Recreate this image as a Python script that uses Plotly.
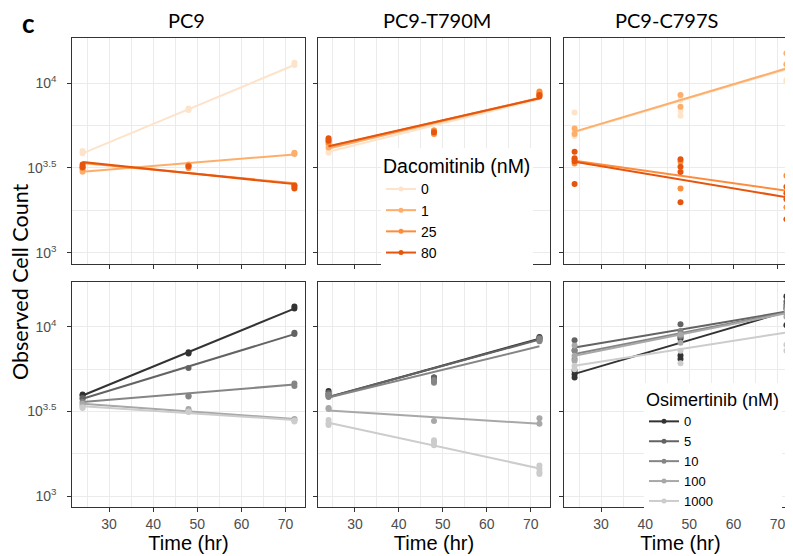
import plotly.graph_objects as go

# ---------------- data ----------------
times = [24, 48, 72]
fit_times = [24, 72]
cell_lines = ["PC9", "PC9-T790M", "PC9-C797S"]
daco_doses = ["0", "1", "25", "80"]
osim_doses = ["0", "5", "10", "100", "1000"]
daco_colors = ["#FEE3CB", "#FDAE6B", "#FD8D3C", "#E6550D"]
osim_colors = ["#333333", "#636363", "#858585", "#A8A8A8", "#CCCCCC"]

y_tick_values = [1000, 3162.28, 10000]
y_tick_labels = ["10<sup>3</sup>", "10<sup>3.5</sup>", "10<sup>4</sup>"]
y_minor_values = [1778.28, 5623.41]
x_tick_values = [30, 40, 50, 60, 70]
x_minor_values = [25, 35, 45, 55, 65, 75]

# observed cell counts: replicate values at 24, 48, 72 hr
pc9_daco_obs = {
    "0": [[3855, 3980], [6930, 7080], [12760, 13180]],
    "1": [[3006, 3090], [3266, 3311], [3820, 3890]],
    "25": [[3236, 3162], [3266, 3162], [2455, 2512]],
    "80": [[3311, 3199], [3236], [2399, 2483]],
}
pc9_daco_fit = {"0": [3855, 12760], "1": [3006, 3802], "25": [3388, 2570], "80": [3428, 2541]}

t790m_daco_obs = {
    "0": [[3890, 3981], [5070, 5188], [8414, 8710]],
    "1": [[4169, 4365], [5129, 5248], [8511, 8810]],
    "25": [[4467, 4624], [5012, 5248], [8610, 8913]],
    "80": [[4571, 4732], [5129], [8318, 8511]],
}
t790m_daco_fit = {"0": [3945, 8035], "1": [4121, 8128], "25": [4217, 8166], "80": [4246, 8128]}

c797s_daco_obs = {
    "0": [[6714, 5176, 4875], [7943, 6871, 6427], [12764, 10423, 10186]],
    "1": [[5408, 5012], [8492, 7244], [14962, 12882]],
    "25": [[3556, 3365], [3443, 2399], [2851, 1858]],
    "80": [[3945, 3606, 3467, 2547], [3556, 3221, 2992, 1986], [2455, 2244, 2070, 1578]],
}
c797s_daco_fit = {"0": [5129, 12023], "1": [5176, 12190], "25": [3491, 2328], "80": [3443, 2128]}

pc9_osim_obs = {
    "0": [[3926, 3981], [6966, 7079], [12823, 13183]],
    "5": [[3758, 3802], [5715], [9057, 9226]],
    "10": [[3589], [3908, 3873], [4624, 4467]],
    "100": [[3508, 3428], [3206, 3273], [2851, 2818]],
    "1000": [[3350, 3311], [3133, 3162], [2799, 2754]],
}
pc9_osim_fit = {"0": [3926, 12823], "5": [3758, 9057], "10": [3589, 4560], "100": [3508, 2851], "1000": [3388, 2818]}

t790m_osim_obs = {
    "0": [[3981, 4169], [4898, 5012], [8511, 8710]],
    "5": [[3890, 4074], [4786, 5012], [8318, 8610]],
    "10": [[3846, 3981], [4677, 4842], [8222, 8511]],
    "100": [[3311, 3273], [2773], [2884, 2673]],
    "1000": [[2818, 2692, 2630], [2138, 2089, 1995], [1514, 1445, 1380, 1349]],
}
t790m_osim_fit = {"0": [3837, 8511], "5": [3846, 8414], "10": [3819, 7674], "100": [3206, 2673], "1000": [2710, 1455]}

c797s_osim_obs = {
    "0": [[5495, 5248, 5012], [8511, 6761, 6457], [15136, 12823, 10233]],
    "5": [[8318, 7244], [10375, 8710], [14125, 13490]],
    "10": [[7244, 6457], [9462, 8851], [13183, 12023]],
    "100": [[7762, 6745, 6310], [9016, 8054], [12589, 11482]],
    "1000": [[5888, 5623], [7228, 6095], [7834, 7228]],
}
c797s_osim_fit = {"0": [5272, 12303], "5": [7551, 12303], "10": [6902, 12162], "100": [6745, 12023], "1000": [5888, 9268]}

# ---------------- layout geometry ----------------
# The page body adds an 8px margin, so positions are given in screen pixels
# and shifted by OFF into figure pixels.
W, H = 793, 556
OFF = 8
col_px = [(72, 305), (318, 550), (564, 797)]
row_px = [(38, 264), (282, 507)]
x_range = [21.6, 74.4]
y_range_log = [2.935, 4.265]

GRID = "#EBEBEB"
BORDER = "#333333"
TICKFONT = dict(family="Liberation Sans, Arial", size=14, color="#4D4D4D")
LABEL_PAD = "\u00a0\u00a0"  # extra gap between y tick labels and ticks


def px_x(x):
    return (x - OFF) / W


def px_y(y):
    return 1 - (y - OFF) / H


fig = go.Figure()


def axis_suffix(i):
    return "" if i == 1 else str(i)


def add_panel(i, obs, fit, doses, colors):
    s = axis_suffix(i)
    for dose, color in zip(doses, colors):
        xs, ys = [], []
        for t, reps in zip(times, obs[dose]):
            xs += [t] * len(reps)
            ys += reps
        fig.add_trace(go.Scatter(x=xs, y=ys, mode="markers",
                                 marker=dict(color=color, size=6),
                                 xaxis="x" + s, yaxis="y" + s,
                                 showlegend=False, hoverinfo="skip"))
        fig.add_trace(go.Scatter(x=fit_times, y=fit[dose], mode="lines",
                                 line=dict(color=color, width=2),
                                 xaxis="x" + s, yaxis="y" + s,
                                 showlegend=False, hoverinfo="skip"))


panels = [
    (pc9_daco_obs, pc9_daco_fit, daco_doses, daco_colors),
    (t790m_daco_obs, t790m_daco_fit, daco_doses, daco_colors),
    (c797s_daco_obs, c797s_daco_fit, daco_doses, daco_colors),
    (pc9_osim_obs, pc9_osim_fit, osim_doses, osim_colors),
    (t790m_osim_obs, t790m_osim_fit, osim_doses, osim_colors),
    (c797s_osim_obs, c797s_osim_fit, osim_doses, osim_colors),
]
for k, (obs, fit, doses, colors) in enumerate(panels):
    add_panel(k + 1, obs, fit, doses, colors)

# legend-only traces
for dose, color in zip(daco_doses, daco_colors):
    fig.add_trace(go.Scatter(x=[None], y=[None], mode="lines+markers", name=dose,
                             line=dict(color=color, width=2), marker=dict(color=color, size=5),
                             xaxis="x2", yaxis="y2", legend="legend"))
for dose, color in zip(osim_doses, osim_colors):
    fig.add_trace(go.Scatter(x=[None], y=[None], mode="lines+markers", name=dose,
                             line=dict(color=color, width=2), marker=dict(color=color, size=5),
                             xaxis="x6", yaxis="y6", legend="legend2"))

layout = dict(
    width=W, height=H,
    margin=dict(l=0, r=0, t=0, b=0),
    paper_bgcolor="white", plot_bgcolor="white",
    showlegend=True,
    font=dict(family="Liberation Sans, Arial", color="black"),
)

for r in range(2):
    for c in range(3):
        i = r * 3 + c + 1
        s = axis_suffix(i)
        x0, x1 = col_px[c]
        y0, y1 = row_px[r]
        xa = dict(
            domain=[px_x(x0), min(1.0, px_x(x1))], anchor="y" + s,
            range=x_range, tickmode="array", tickvals=x_tick_values,
            showticklabels=(r == 1), tickfont=TICKFONT,
            ticks="outside", ticklen=4, tickcolor=BORDER, tickwidth=1,
            showgrid=True, gridcolor=GRID, gridwidth=1.2,
            minor=dict(tickmode="array", tickvals=x_minor_values, showgrid=True,
                       gridcolor=GRID, gridwidth=0.7, ticks=""),
            showline=True, mirror=True, linecolor=BORDER, linewidth=1,
            zeroline=False,
        )
        if r == 1:
            xa["title"] = dict(text="Time (hr)", font=dict(family="Liberation Sans, Arial", size=20, color="black"),
                               standoff=4)
        ya = dict(
            domain=[px_y(y1), px_y(y0)], anchor="x" + s,
            type="log", range=y_range_log, tickmode="array",
            tickvals=y_tick_values, ticktext=[t + LABEL_PAD for t in y_tick_labels],
            showticklabels=(c == 0), tickfont=TICKFONT,
            ticks="outside", ticklen=4, tickcolor=BORDER, tickwidth=1,
            showgrid=True, gridcolor=GRID, gridwidth=1.2,
            minor=dict(tickmode="array", tickvals=y_minor_values, showgrid=True,
                       gridcolor=GRID, gridwidth=0.7, ticks=""),
            showline=True, mirror=True, linecolor=BORDER, linewidth=1,
            zeroline=False,
        )
        layout["xaxis" + s] = xa
        layout["yaxis" + s] = ya

layout["legend"] = dict(
    x=px_x(381), y=px_y(148), xanchor="left", yanchor="top",
    bgcolor="white", borderwidth=0,
    title=dict(text="Dacomitinib (nM)", font=dict(family="Liberation Sans, Arial", size=19.5, color="black")),
    font=dict(family="Liberation Sans, Arial", size=14, color="black"),
    itemwidth=30, tracegroupgap=0,
)
layout["legend2"] = dict(
    x=px_x(644), y=px_y(383), xanchor="left", yanchor="top",
    bgcolor="white", borderwidth=0,
    title=dict(text="Osimertinib (nM)", font=dict(family="Liberation Sans, Arial", size=18, color="black")),
    font=dict(family="Liberation Sans, Arial", size=13, color="black"),
    itemwidth=30, tracegroupgap=0,
)

STRIP_FONT = dict(family="Lato, Open Sans, sans-serif", size=20, color="black")
annotations = [
    dict(text="<b>c</b>", x=px_x(28), y=px_y(23), xref="paper", yref="paper",
         showarrow=False, xanchor="center", yanchor="middle",
         font=dict(family="Lato, sans-serif", size=26, color="black")),
    dict(text="Observed Cell Count", x=px_x(8), y=px_y(282), xref="paper", yref="paper",
         showarrow=False, xanchor="left", yanchor="middle", textangle=-90, xshift=-3,
         font=dict(family="Lato, Open Sans, sans-serif", size=21.5, color="black")),
]
strip_centers = [186, 437, 666]
for name, cx in zip(cell_lines, strip_centers):
    annotations.append(dict(text=name, x=px_x(cx), y=px_y(20), xref="paper", yref="paper",
                            showarrow=False, xanchor="center", yanchor="middle", font=STRIP_FONT))
layout["annotations"] = annotations

fig.update_layout(**layout)
fig.write_html("out.html")
